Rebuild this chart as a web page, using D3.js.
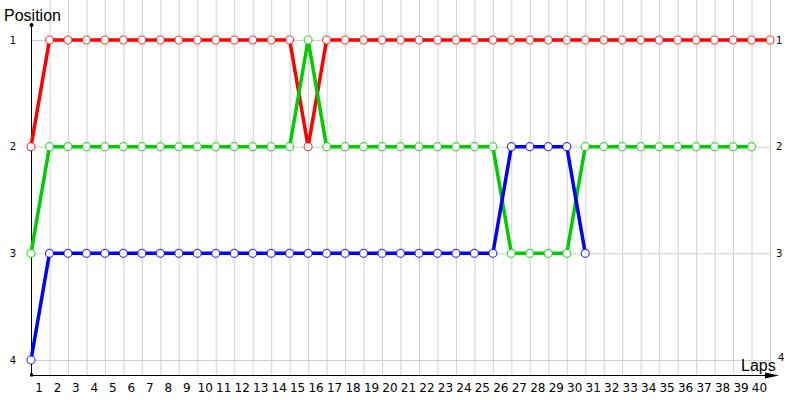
<!DOCTYPE html>
<html>
<head>
<meta charset="utf-8">
<script src="https://cdn.jsdelivr.net/npm/d3@7"></script>
<style>
  body { margin: 0; background: #fff; }
  svg { display: block; font-family: "DejaVu Sans", sans-serif; }
</style>
</head>
<body>
<div id="chart"></div>
<script>
// laps 0..40, positions 1..4
const laps = d3.range(1, 41);
const positions = [1, 2, 3, 4];

const redPos = [2, 1, 1, 1, 1, 1, 1, 1, 1, 1, 1, 1, 1, 1, 1, 2, 1, 1, 1, 1, 1,
    1, 1, 1, 1, 1, 1, 1, 1, 1, 1, 1, 1, 1, 1, 1, 1, 1, 1, 1, 1];
const greenPos = [3, 2, 2, 2, 2, 2, 2, 2, 2, 2, 2, 2, 2, 2, 2, 1, 2, 2, 2, 2, 2,
    2, 2, 2, 2, 2, 3, 3, 3, 3, 2, 2, 2, 2, 2, 2, 2, 2, 2, 2];
const bluePos = [4, 3, 3, 3, 3, 3, 3, 3, 3, 3, 3, 3, 3, 3, 3, 3, 3, 3, 3, 3, 3,
    3, 3, 3, 3, 3, 2, 2, 2, 2, 3];

const series = [
    { name: "red", color: "#ff0000", values: redPos },
    { name: "green", color: "#00cc00", values: greenPos },
    { name: "blue", color: "#0000ff", values: bluePos },
];

const width = 800, height = 400;
const x = d3.scaleLinear().domain([0, 40]).range([31, 770]);
const y = d3.scaleLinear().domain([1, 4]).range([40, 360]);
const axisY = 375;

const svg = d3.select("#chart").append("svg")
    .attr("width", width)
    .attr("height", height);

// grid
svg.append("g").selectAll("line")
    .data(laps)
    .join("line")
    .attr("x1", (d) => x(d) + 0.5).attr("x2", (d) => x(d) + 0.5)
    .attr("y1", 0).attr("y2", axisY)
    .attr("stroke", "#d0d0d0");

svg.append("g").selectAll("line")
    .data(positions)
    .join("line")
    .attr("x1", x(0)).attr("x2", x(40))
    .attr("y1", (d) => y(d) + 0.5).attr("y2", (d) => y(d) + 0.5)
    .attr("stroke", "#d0d0d0");

// axes
svg.append("line")
    .attr("x1", x(0) + 0.5).attr("x2", x(0) + 0.5)
    .attr("y1", 25).attr("y2", axisY)
    .attr("stroke", "#000");
svg.append("circle").attr("cx", x(0) + 0.5).attr("cy", 25).attr("r", 2).attr("fill", "#000");
svg.append("rect").attr("x", x(0) - 1).attr("y", axisY - 1.5).attr("width", 3).attr("height", 3).attr("fill", "#000");

svg.append("line")
    .attr("x1", x(0)).attr("x2", 772)
    .attr("y1", axisY + 0.5).attr("y2", axisY + 0.5)
    .attr("stroke", "#000");
svg.append("path")
    .attr("d", `M765,${axisY - 2.5} L779,${axisY + 0.5} L765,${axisY + 3.5} Z`)
    .attr("fill", "#000");

// tick labels
svg.append("g").selectAll("text")
    .data(laps)
    .join("text")
    .attr("x", (d) => x(d) - 10.5)
    .attr("y", 392)
    .attr("text-anchor", "middle")
    .attr("font-size", 12)
    .text((d) => d);

svg.append("g").selectAll("text")
    .data(positions)
    .join("text")
    .attr("x", 13)
    .attr("y", (d) => y(d))
    .attr("dy", "0.35em")
    .attr("text-anchor", "middle")
    .attr("font-size", 10)
    .text((d) => d);

svg.append("g").selectAll("text")
    .data(positions)
    .join("text")
    .attr("x", (d) => (d === 4 ? 778 : 776))
    .attr("y", (d) => (d === 4 ? y(d) - 3 : y(d)))
    .attr("dy", "0.35em")
    .attr("font-size", 10)
    .text((d) => d);

svg.append("text")
    .attr("x", 4).attr("y", 21)
    .attr("font-size", 16)
    .attr("font-family", "Liberation Sans, sans-serif")
    .text("Position");

svg.append("text")
    .attr("x", 741).attr("y", 371)
    .attr("font-size", 16)
    .attr("font-family", "Liberation Sans, sans-serif")
    .text("Laps");

// series lines
const line = d3.line()
    .x((d, i) => x(i))
    .y((d) => y(d));

svg.append("g").selectAll("path")
    .data(series)
    .join("path")
    .attr("d", (s) => line(s.values))
    .attr("fill", "none")
    .attr("stroke", (s) => s.color)
    .attr("stroke-width", 3.5);

// markers
series.forEach((s) => {
    svg.append("g").selectAll("circle")
        .data(s.values)
        .join("circle")
        .attr("cx", (d, i) => x(i))
        .attr("cy", (d) => y(d))
        .attr("r", 4)
        .attr("fill", "#fff")
        .attr("stroke", s.color)
        .attr("stroke-opacity", 0.75)
        .attr("stroke-width", 1.2);
});
</script>
</body>
</html>
